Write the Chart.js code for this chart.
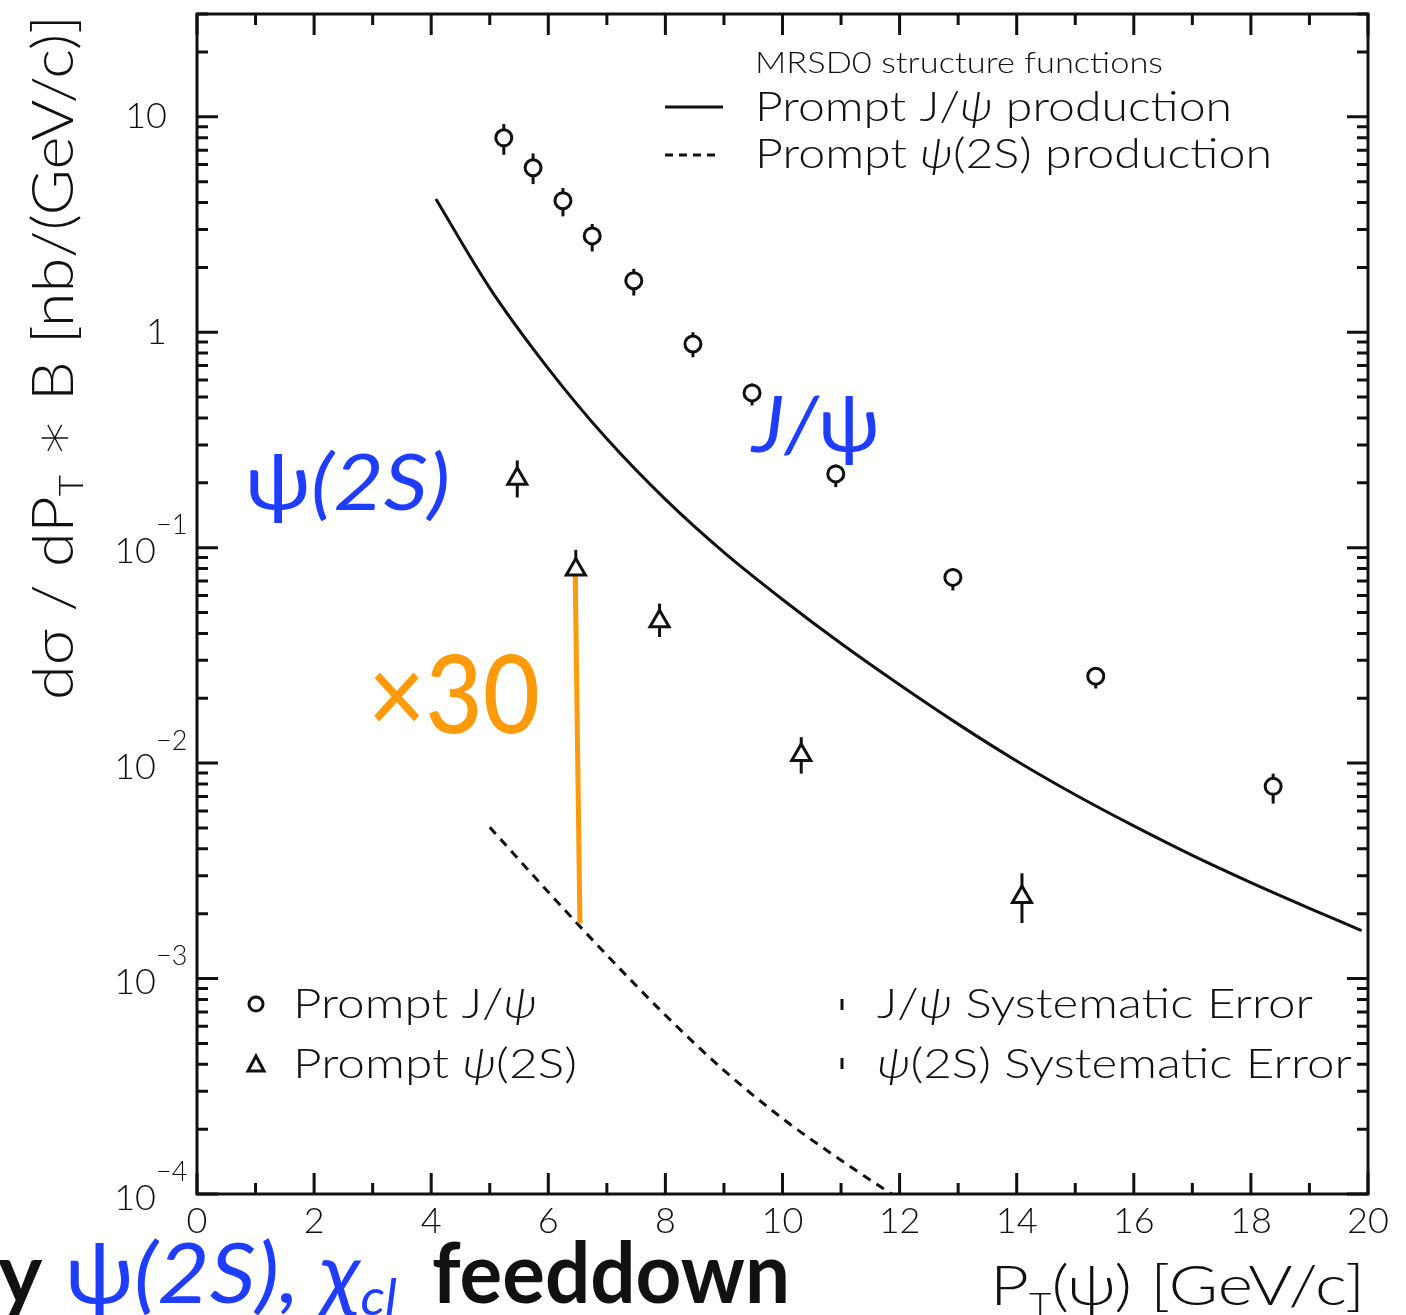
<!DOCTYPE html>
<html>
<head>
<meta charset="utf-8">
<script src="https://cdn.jsdelivr.net/npm/chart.js@4.4.1/dist/chart.umd.min.js"></script>
<style>
  html, body { margin: 0; padding: 0; background: #fff; }
  #wrap { width: 1406px; height: 1315px; }
</style>
</head>
<body>
<div id="wrap"><canvas id="xsec" width="1406" height="1315"></canvas></div>
<script>
// measured prompt J/psi cross section
var jpsiPt = [5.24, 5.74, 6.25, 6.75, 7.46, 8.47, 9.48, 10.91, 12.91, 15.35, 18.38];
var jpsiY  = [7.99, 5.80, 4.08, 2.80, 1.735, 0.882, 0.523, 0.220, 0.0728, 0.0253, 0.0078];
var jpsiHi = [9.25, 6.76, 4.67, 3.18, 1.97, 1.00, 0.578, 0.243, 0.080, 0.0278, 0.00894];
var jpsiLo = [6.66, 4.87, 3.45, 2.37, 1.48, 0.765, 0.457, 0.191, 0.0633, 0.0222, 0.00649];

// measured prompt psi(2S) cross section
var psiPt = [5.47, 6.47, 7.90, 10.32, 14.09];
var psiY  = [0.209, 0.0793, 0.0455, 0.0109, 0.00239];
var psiHi = [0.254, 0.0977, 0.0550, 0.0132, 0.00308];
var psiLo = [0.171, 0.064, 0.0385, 0.00894, 0.00181];

// theory curves (MRSD0)
var thJpsiPt = [4.08, 5, 6, 7, 8, 9, 10, 11, 12, 13, 14, 15, 16, 17, 18, 19, 19.89];
var thJpsi   = [4.15, 1.603, 0.678, 0.320, 0.1675, 0.0951, 0.0575, 0.0359, 0.0231, 0.01517,
                0.01023, 0.00713, 0.00511, 0.00373, 0.00279, 0.00212, 0.00167];
var thPsiPt = [5, 6, 7, 8, 9, 10, 11, 12];
var thPsi   = [5.04e-3, 2.52e-3, 1.285e-3, 6.76e-4, 3.75e-4, 2.24e-4, 1.435e-4, 9.44e-5];

// factor-30 gap between data and theory at pT ~ 6.5
var gapPt = [6.46, 6.54];
var gapY  = [0.0743, 0.00181];

var yDecades = [-4, -3, -2, -1, 0, 1];

var BLUE = '#1f3dff';
var ORANGE = '#ff9a0a';
var INK = '#111';
var PAW = "'Lato', 'DejaVu Sans', sans-serif";

function pts(xs, ys) {
    return xs.map(function(x, i) { return {x: x, y: ys[i]}; });
}

function runsWidth(ctx, runs) {
    var w = 0;
    runs.forEach(function(r) { ctx.font = r.font; w += ctx.measureText(r.t).width; });
    return w;
}

// draw a row of differently styled pieces on one baseline, optionally squeezed to a width
function drawRuns(ctx, runs, x, y, width) {
    var sx = width ? width / runsWidth(ctx, runs) : 1;
    ctx.save();
    ctx.translate(x, y);
    ctx.scale(sx, 1);
    ctx.textBaseline = 'alphabetic';
    ctx.textAlign = 'left';
    var cx = 0;
    runs.forEach(function(r) {
        ctx.font = r.font;
        ctx.fillStyle = r.color || INK;
        ctx.fillText(r.t, cx, r.dy || 0);
        cx += ctx.measureText(r.t).width;
    });
    ctx.restore();
}

function f(size, style) { return (style || '300') + ' ' + size + 'px ' + PAW; }
function g(size, style) { return (style || '400') + ' ' + size + 'px Lato, sans-serif'; }

var errorBars = {
    id: 'errorBars',
    beforeDatasetsDraw: function(chart) {
        var ctx = chart.ctx, xs = chart.scales.x, ys = chart.scales.y;
        ctx.save();
        ctx.strokeStyle = INK;
        ctx.lineWidth = 3;
        function bars(px, hi, lo) {
            px.forEach(function(p, i) {
                var x = xs.getPixelForValue(p);
                ctx.beginPath();
                ctx.moveTo(x, ys.getPixelForValue(hi[i]));
                ctx.lineTo(x, ys.getPixelForValue(lo[i]));
                ctx.stroke();
            });
        }
        bars(jpsiPt, jpsiHi, jpsiLo);
        bars(psiPt, psiHi, psiLo);
        ctx.restore();
    }
};

var frameAndText = {
    id: 'frameAndText',
    afterDraw: function(chart) {
        var ctx = chart.ctx, a = chart.chartArea;
        var xs = chart.scales.x, ys = chart.scales.y;
        ctx.save();
        ctx.strokeStyle = INK;
        ctx.lineWidth = 3;
        ctx.strokeRect(a.left, a.top, a.right - a.left, a.bottom - a.top);

        // inward ticks on all four sides
        ctx.beginPath();
        for (var v = 0; v <= 20; v++) {
            var px = xs.getPixelForValue(v);
            var len = v % 2 === 0 ? 21 : 11;
            ctx.moveTo(px, a.bottom); ctx.lineTo(px, a.bottom - len);
            ctx.moveTo(px, a.top); ctx.lineTo(px, a.top + len);
        }
        yDecades.forEach(function(e) {
            for (var m = 1; m <= 9; m++) {
                var val = m * Math.pow(10, e);
                if (val > ys.max * 1.0001) continue;
                var py = ys.getPixelForValue(val);
                var l = m === 1 ? 21 : 11;
                ctx.moveTo(a.left, py); ctx.lineTo(a.left + l, py);
                ctx.moveTo(a.right, py); ctx.lineTo(a.right - l, py);
            }
        });
        ctx.stroke();

        // y tick labels
        yDecades.forEach(function(e) {
            var py = ys.getPixelForValue(Math.pow(10, e));
            ctx.fillStyle = INK;
            ctx.textBaseline = 'middle';
            if (e === 1 || e === 0) {
                ctx.font = f(36);
                ctx.textAlign = 'right';
                ctx.fillText(e === 1 ? '10' : '1', 167, py);
            } else {
                ctx.font = f(36);
                ctx.textAlign = 'right';
                ctx.fillText('10', 156, py + 4);
                ctx.font = f(27);
                ctx.textAlign = 'left';
                ctx.fillText('\u2212' + (-e), 156, py - 22);
            }
        });

        // axis titles
        ctx.save();
        ctx.translate(73, 700);
        ctx.rotate(-Math.PI / 2);
        drawRuns(ctx, [
            {t: 'd\u03c3 / dP', font: f(58)},
            {t: 'T', font: f(34), dy: 10},
            {t: ' \u2217 B [nb/(GeV/c)]', font: f(58)}
        ], 0, 0, 685);
        ctx.restore();
        drawRuns(ctx, [
            {t: 'P', font: f(56)},
            {t: 'T', font: f(32), dy: 10},
            {t: '(\u03c8) [GeV/c]', font: f(56)}
        ], 990, 1305, 375);

        // theory legend, top right
        drawRuns(ctx, [{t: 'MRSD0 structure functions', font: f(30)}], 755, 73, 408);
        drawRuns(ctx, [{t: 'Prompt J/', font: f(42)}, {t: '\u03c8', font: f(42, 'italic 300')},
                       {t: ' production', font: f(42)}], 755, 121, 477);
        drawRuns(ctx, [{t: 'Prompt ', font: f(42)}, {t: '\u03c8', font: f(42, 'italic 300')},
                       {t: '(2S) production', font: f(42)}], 755, 168, 517);
        ctx.lineWidth = 3;
        ctx.beginPath(); ctx.moveTo(665, 107); ctx.lineTo(723, 107); ctx.stroke();
        ctx.setLineDash([8, 6]);
        ctx.beginPath(); ctx.moveTo(665, 155); ctx.lineTo(720, 155); ctx.stroke();
        ctx.setLineDash([]);

        // data legend, bottom
        ctx.lineWidth = 3;
        ctx.fillStyle = '#fff';
        ctx.beginPath(); ctx.arc(256, 1004, 7, 0, Math.PI * 2); ctx.fill(); ctx.stroke();
        ctx.beginPath();
        ctx.moveTo(256, 1056); ctx.lineTo(264, 1071); ctx.lineTo(248, 1071); ctx.closePath(); ctx.stroke();
        ctx.beginPath();
        ctx.moveTo(842, 999); ctx.lineTo(842, 1010);
        ctx.moveTo(842, 1058); ctx.lineTo(842, 1069);
        ctx.stroke();
        drawRuns(ctx, [{t: 'Prompt J/', font: f(42)}, {t: '\u03c8', font: f(42, 'italic 300')}], 293, 1018, 244);
        drawRuns(ctx, [{t: 'Prompt ', font: f(42)}, {t: '\u03c8', font: f(42, 'italic 300')},
                       {t: '(2S)', font: f(42)}], 293, 1078, 284);
        drawRuns(ctx, [{t: 'J/', font: f(42)}, {t: '\u03c8', font: f(42, 'italic 300')},
                       {t: ' Systematic Error', font: f(42)}], 877, 1018, 436);
        drawRuns(ctx, [{t: '\u03c8', font: f(42, 'italic 300')},
                       {t: '(2S) Systematic Error', font: f(42)}], 877, 1078, 475);

        // slide annotations
        drawRuns(ctx, [{t: '\u03c8', font: g(78), color: BLUE},
                       {t: '(2S)', font: g(78, 'italic 400'), color: BLUE}], 245, 510, 205);
        drawRuns(ctx, [{t: 'J/', font: g(78, 'italic 400'), color: BLUE},
                       {t: '\u03c8', font: g(78), color: BLUE}], 752, 452, 128);
        drawRuns(ctx, [{t: '\u00d730', font: g(108, '500'), color: ORANGE}], 368, 733, 172);

        drawRuns(ctx, [{t: 'y', font: g(84, '700')}], -2, 1303);
        drawRuns(ctx, [{t: '\u03c8', font: g(84), color: BLUE},
                       {t: '(2S), ', font: g(84, 'italic 400'), color: BLUE},
                       {t: '\u03c7', font: g(84, 'italic 400'), color: BLUE},
                       {t: 'cl', font: g(50, 'italic 400'), color: BLUE, dy: 12}], 65, 1303, 332);
        drawRuns(ctx, [{t: 'feeddown', font: g(84, '700')}], 432, 1303, 358);
        ctx.restore();
    }
};

var ctx = document.getElementById('xsec').getContext('2d');
var chart = new Chart(ctx, {
    type: 'scatter',
    data: {
        datasets: [
            {
                label: 'Prompt J/\u03c8',
                data: pts(jpsiPt, jpsiY),
                pointStyle: 'circle',
                pointRadius: 8,
                borderWidth: 3,
                borderColor: INK,
                backgroundColor: '#fff',
                order: 0
            },
            {
                label: 'Prompt \u03c8(2S)',
                data: pts(psiPt, psiY),
                pointStyle: 'triangle',
                pointRadius: 11,
                borderWidth: 3,
                borderColor: INK,
                backgroundColor: '#fff',
                order: 1
            },
            {
                label: 'x30',
                type: 'line',
                data: pts(gapPt, gapY),
                borderColor: ORANGE,
                borderWidth: 5,
                pointRadius: 0,
                order: 2
            },
            {
                label: 'Prompt J/\u03c8 production',
                type: 'line',
                data: pts(thJpsiPt, thJpsi),
                borderColor: INK,
                borderWidth: 3,
                pointRadius: 0,
                cubicInterpolationMode: 'monotone',
                order: 3
            },
            {
                label: 'Prompt \u03c8(2S) production',
                type: 'line',
                data: pts(thPsiPt, thPsi),
                borderColor: INK,
                borderWidth: 3,
                borderDash: [9, 7],
                pointRadius: 0,
                cubicInterpolationMode: 'monotone',
                order: 4
            }
        ]
    },
    options: {
        responsive: false,
        animation: false,
        devicePixelRatio: 1,
        layout: { padding: { left: 197, top: 13, right: 38, bottom: 0 } },
        plugins: { legend: { display: false }, tooltip: { enabled: false } },
        scales: {
            x: {
                type: 'linear',
                min: 0, max: 20,
                grid: { display: false, drawTicks: false },
                border: { display: false },
                ticks: {
                    stepSize: 2,
                    autoSkip: false,
                    maxRotation: 0,
                    padding: 6,
                    color: INK,
                    font: { family: 'Lato', size: 36, weight: '300' }
                },
                afterFit: function(scale) { scale.height = 121; }
            },
            y: {
                type: 'logarithmic',
                min: 1e-4, max: 30,
                grid: { display: false, drawTicks: false },
                border: { display: false },
                ticks: { display: false },
                afterFit: function(scale) { scale.width = 0; }
            }
        }
    },
    plugins: [errorBars, frameAndText]
});
</script>
</body>
</html>
